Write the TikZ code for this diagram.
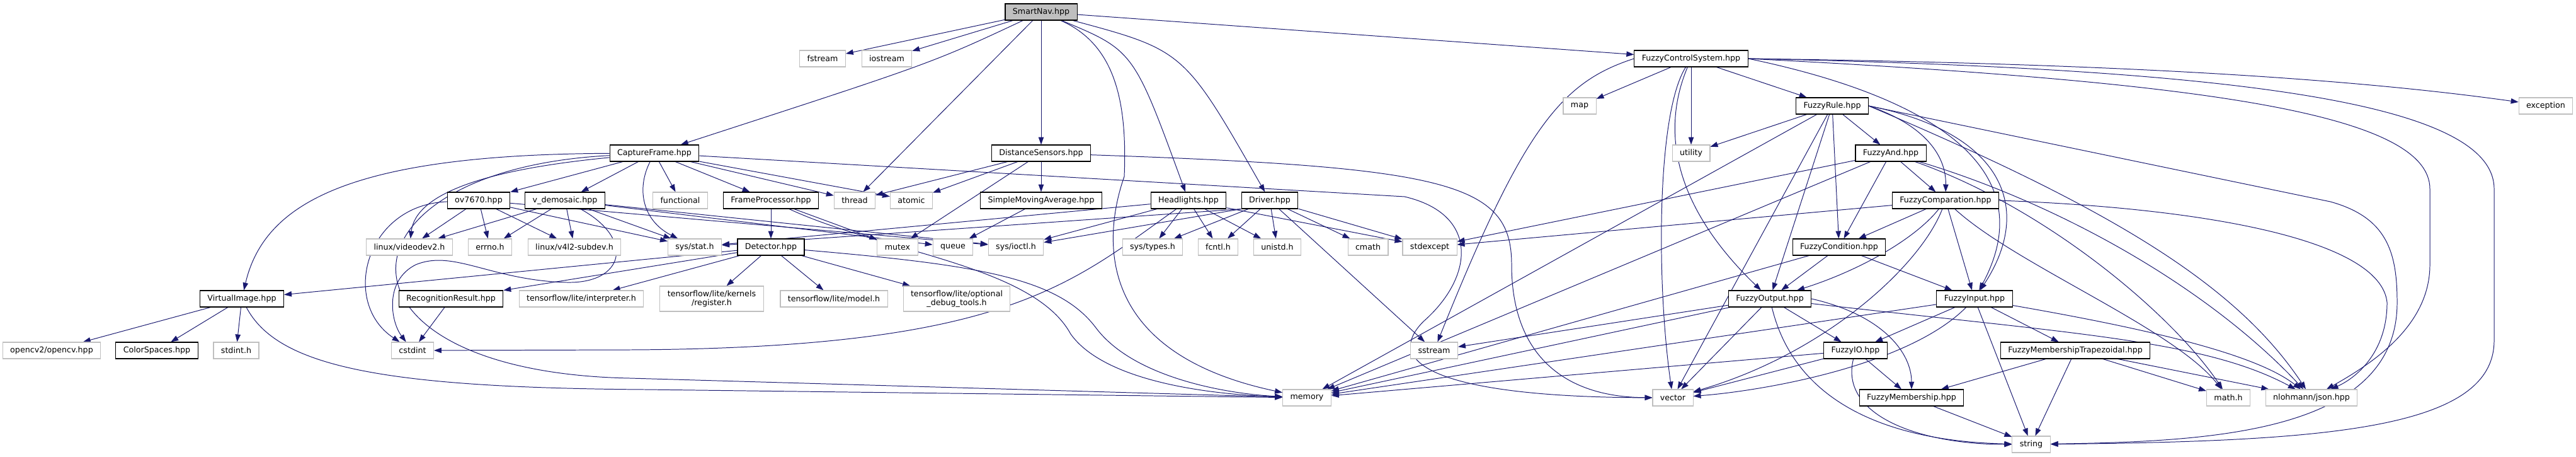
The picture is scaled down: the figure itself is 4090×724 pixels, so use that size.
\documentclass[tikz,border=0pt]{standalone}
\usepackage{fontspec}
\setmainfont{DejaVu Sans}
\usetikzlibrary{arrows.meta}

\definecolor{edgeblue}{HTML}{191970}
\pgfdeclarelayer{edges}
\pgfsetlayers{edges,main}

\begin{document}
\begin{tikzpicture}[
    x=0.025cm, y=-0.025cm,
    box/.style={rectangle, draw=black, line width=0.75pt, fill=white, minimum height=0.65cm, inner xsep=8.5pt, inner ysep=0pt, font=\fontsize{9}{10}\selectfont},
    sysbox/.style={box, draw=black!25},
    twoline/.style={align=center, minimum height=1cm},
    arrow/.style={-{Triangle[length=8.5pt, width=6pt]}, line width=0.7pt, draw=edgeblue},
]
\useasboundingbox (0,0) rectangle (4090,724);

%% NODES
    % root
    \node[box, fill=black!25] (smart_nav) at (1653,19) {SmartNav.hpp};

    % first level
    \node[sysbox] (fstream) at (1306,93) {fstream};
    \node[sysbox] (iostream) at (1408,93) {iostream};
    \node[box] (fuzzy_control_system) at (2685,93) {FuzzyControlSystem.hpp};

    \node[sysbox] (map) at (2508,168) {map};
    \node[box] (fuzzy_rule) at (2909,168) {FuzzyRule.hpp};
    \node[sysbox] (exception) at (4042,168) {exception};

    % capture, sensors
    \node[box] (capture_frame) at (1039,243) {CaptureFrame.hpp};
    \node[box] (distance_sensors) at (1653,243) {DistanceSensors.hpp};
    \node[sysbox] (utility) at (2685,243) {utility};
    \node[box] (fuzzy_and) at (3002,243) {FuzzyAnd.hpp};

    \node[box] (ov7670) at (760,318) {ov7670.hpp};
    \node[box] (v_demosaic) at (897,318) {v\_demosaic.hpp};
    \node[sysbox] (functional) at (1080,318) {functional};
    \node[box] (frame_processor) at (1224,318) {FrameProcessor.hpp};
    \node[sysbox] (thread) at (1357,318) {thread};
    \node[sysbox] (atomic) at (1447,318) {atomic};
    \node[box] (simple_moving_average) at (1653,318) {SimpleMovingAverage.hpp};
    \node[box] (headlights) at (1887,318) {Headlights.hpp};
    \node[box] (driver) at (2016,318) {Driver.hpp};
    \node[box] (fuzzy_comparation) at (3089,318) {FuzzyComparation.hpp};

    % system headers
    \node[sysbox] (linux_videodev2) at (650,392) {linux/videodev2.h};
    \node[sysbox] (errno) at (778,392) {errno.h};
    \node[sysbox] (linux_v4l2_subdev) at (912,392) {linux/v4l2-subdev.h};
    \node[sysbox] (sys_stat) at (1103,392) {sys/stat.h};
    \node[box] (detector) at (1224,392) {Detector.hpp};
    \node[sysbox] (mutex) at (1425,392) {mutex};
    \node[sysbox] (queue) at (1513,392) {queue};
    \node[sysbox] (sys_ioctl) at (1613,392) {sys/ioctl.h};
    \node[sysbox] (sys_types) at (1830,392) {sys/types.h};
    \node[sysbox] (fcntl) at (1934,392) {fcntl.h};
    \node[sysbox] (unistd) at (2028,392) {unistd.h};
    \node[sysbox] (cmath) at (2172,392) {cmath};
    \node[sysbox] (stdexcept) at (2270,392) {stdexcept};
    \node[box] (fuzzy_condition) at (2920,392) {FuzzyCondition.hpp};

    % detector
    \node[box] (virtual_image) at (384,474) {VirtualImage.hpp};
    \node[box] (recognition_result) at (716,474) {RecognitionResult.hpp};
    \node[sysbox] (tflite_interpreter) at (923,474) {tensorflow/lite/interpreter.h};
    \node[sysbox, twoline] (tflite_register) at (1130,474) {tensorflow/lite/kernels\\/register.h};
    \node[sysbox] (tflite_model) at (1324,474) {tensorflow/lite/model.h};
    \node[sysbox, twoline] (tflite_debug_tools) at (1519,474) {tensorflow/lite/optional\\\_debug\_tools.h};
    \node[box] (fuzzy_output) at (2810,474) {FuzzyOutput.hpp};
    \node[box] (fuzzy_input) at (3135,474) {FuzzyInput.hpp};

    \node[sysbox] (opencv) at (82,556) {opencv2/opencv.hpp};
    \node[box] (color_spaces) at (249,556) {ColorSpaces.hpp};
    \node[sysbox] (stdint_h) at (375,556) {stdint.h};
    \node[sysbox] (cstdint) at (655,556) {cstdint};
    \node[sysbox] (sstream) at (2277,556) {sstream};
    \node[box] (fuzzy_io) at (2946,556) {FuzzyIO.hpp};
    \node[box] (fuzzy_membership_trapezoidal) at (3295,556) {FuzzyMembershipTrapezoidal.hpp};

    \node[sysbox] (memory) at (2075,631) {memory};
    \node[sysbox] (vector) at (2656,631) {vector};
    \node[box] (fuzzy_membership) at (3035,631) {FuzzyMembership.hpp};
    \node[sysbox] (math_h) at (3538,631) {math.h};
    \node[sysbox] (json) at (3670,631) {nlohmann/json.hpp};

    \node[sysbox] (string) at (3225,705) {string};

%% CONNECTIONS
\begin{pgfonlayer}{edges}
    % SmartNav
    \draw[arrow] (smart_nav) -- (fstream);
    \draw[arrow] (smart_nav) -- (iostream);
    \draw[arrow] (smart_nav) .. controls (1480,100) .. (capture_frame);
    \draw[arrow] (smart_nav) -- (thread);
    \draw[arrow] (smart_nav) -- (distance_sensors);
    \draw[arrow] (smart_nav) .. controls (1770,70) and (1790,160) .. (1785,280) .. controls (1750,380) and (1740,560) .. (memory);
    \draw[arrow] (smart_nav) .. controls (1800,80) .. (headlights);
    \draw[arrow] (smart_nav) .. controls (1880,80) .. (driver);
    \draw[arrow] (smart_nav) -- (fuzzy_control_system);

    % CaptureFrame
    \draw[arrow] (capture_frame) .. controls (560,245) and (420,320) .. (virtual_image);
    \draw[arrow] (capture_frame) .. controls (520,270) and (500,590) .. (1000,600) -- (memory);
    \draw[arrow] (capture_frame) .. controls (760,270) and (660,310) .. (linux_videodev2);
    \draw[arrow] (capture_frame) -- (ov7670);
    \draw[arrow] (capture_frame) -- (v_demosaic);
    \draw[arrow] (capture_frame) .. controls (1010,300) and (1020,350) .. (sys_stat);
    \draw[arrow] (capture_frame) -- (functional);
    \draw[arrow] (capture_frame) -- (frame_processor);
    \draw[arrow] (capture_frame) -- (thread);
    \draw[arrow] (capture_frame) -- (atomic);
    \draw[arrow] (capture_frame) -- (2230,312) .. controls (2350,340) and (2340,440) .. (2260,510) .. controls (2190,580) and (2300,630) .. (vector);

    % camera drivers
    \draw[arrow] (ov7670) .. controls (580,325) and (540,480) .. (cstdint);
    \draw[arrow] (ov7670) -- (linux_videodev2);
    \draw[arrow] (ov7670) -- (errno);
    \draw[arrow] (ov7670) -- (linux_v4l2_subdev);
    \draw[arrow] (ov7670) -- (sys_stat);
    \draw[arrow] (ov7670) -- (sys_ioctl);
    \draw[arrow] (v_demosaic) -- (linux_videodev2);
    \draw[arrow] (v_demosaic) -- (errno);
    \draw[arrow] (v_demosaic) -- (linux_v4l2_subdev);
    \draw[arrow] (v_demosaic) -- (sys_stat);
    \draw[arrow] (v_demosaic) -- (queue);
    \draw[arrow] (v_demosaic) -- (sys_ioctl);
    \draw[arrow] (v_demosaic) .. controls (1010,380) and (990,450) .. (900,448) .. controls (780,445) and (720,395) .. (660,420) .. controls (610,445) and (620,510) .. (cstdint);

    % FrameProcessor, Detector
    \draw[arrow] (frame_processor) -- (detector);
    \draw[arrow] (frame_processor) -- (mutex);
    \draw[arrow] (frame_processor) .. controls (1400,400) and (1640,420) .. (1700,530) .. controls (1750,600) and (1900,625) .. (memory);
    \draw[arrow] (detector) -- (virtual_image);
    \draw[arrow] (detector) -- (recognition_result);
    \draw[arrow] (detector) -- (tflite_interpreter);
    \draw[arrow] (detector) -- (tflite_register);
    \draw[arrow] (detector) -- (tflite_model);
    \draw[arrow] (detector) -- (tflite_debug_tools);
    \draw[arrow] (detector) .. controls (1550,420) and (1680,440) .. (1740,520) .. controls (1800,600) and (1950,625) .. (memory);
    \draw[arrow] (recognition_result) -- (cstdint);

    % VirtualImage
    \draw[arrow] (virtual_image) -- (opencv);
    \draw[arrow] (virtual_image) -- (color_spaces);
    \draw[arrow] (virtual_image) -- (stdint_h);
    \draw[arrow] (virtual_image) .. controls (440,580) and (600,615) .. (1024,618) -- (memory);

    % DistanceSensors
    \draw[arrow] (distance_sensors) -- (thread);
    \draw[arrow] (distance_sensors) -- (atomic);
    \draw[arrow] (distance_sensors) -- (simple_moving_average);
    \draw[arrow] (distance_sensors) -- (mutex);
    \draw[arrow] (distance_sensors) .. controls (2300,265) and (2400,290) .. (2400,420) .. controls (2400,560) and (2480,630) .. (vector);
    \draw[arrow] (simple_moving_average) -- (queue);

    % Headlights
    \draw[arrow] (headlights) -- (sys_stat);
    \draw[arrow] (headlights) -- (sys_ioctl);
    \draw[arrow] (headlights) .. controls (1700,450) and (1600,552) .. (1000,555) -- (cstdint);
    \draw[arrow] (headlights) -- (sys_types);
    \draw[arrow] (headlights) -- (fcntl);
    \draw[arrow] (headlights) -- (unistd);
    \draw[arrow] (headlights) -- (stdexcept);

    % Driver
    \draw[arrow] (driver.south west) -- (sys_stat);
    \draw[arrow] (driver.south west) -- (sys_ioctl);
    \draw[arrow] (driver) -- (sys_types);
    \draw[arrow] (driver) -- (fcntl);
    \draw[arrow] (driver) -- (unistd);
    \draw[arrow] (driver) -- (cmath);
    \draw[arrow] (driver) -- (stdexcept);
    \draw[arrow] (driver) -- (sstream);

    % FuzzyControlSystem
    \draw[arrow] (fuzzy_control_system) -- (map);
    \draw[arrow] (fuzzy_control_system) -- (utility);
    \draw[arrow] (fuzzy_control_system) -- (fuzzy_rule);
    \draw[arrow] (fuzzy_control_system.west) .. controls (2480,130) and (2420,200) .. (sstream);
    \draw[arrow] (fuzzy_control_system) .. controls (2630,180) and (2630,450) .. (vector);
    \draw[arrow] (fuzzy_control_system) .. controls (2640,200) and (2650,320) .. (fuzzy_output);
    \draw[arrow] (fuzzy_control_system.east) .. controls (3050,150) and (3250,260) .. (fuzzy_input);
    \draw[arrow] (fuzzy_control_system.east) .. controls (3300,100) and (3700,120) .. (exception);
    \draw[arrow] (fuzzy_control_system.east) .. controls (3500,130) and (3858,180) .. (3858,300) -- (3858,420) .. controls (3858,520) and (3760,580) .. (json);
    \draw[arrow] (fuzzy_control_system.east) .. controls (3600,110) and (3960,170) .. (3960,300) -- (3960,540) .. controls (3960,680) and (3700,700) .. (string);

    % FuzzyRule
    \draw[arrow] (fuzzy_rule) -- (utility);
    \draw[arrow] (fuzzy_rule) -- (memory);
    \draw[arrow] (fuzzy_rule) -- (vector);
    \draw[arrow] (fuzzy_rule) -- (fuzzy_output);
    \draw[arrow] (fuzzy_rule) -- (fuzzy_condition);
    \draw[arrow] (fuzzy_rule) -- (fuzzy_and);
    \draw[arrow] (fuzzy_rule.east) .. controls (3060,200) and (3090,250) .. (fuzzy_comparation);
    \draw[arrow] (fuzzy_rule.east) .. controls (3180,210) and (3230,330) .. (fuzzy_input);
    \draw[arrow] (fuzzy_rule.east) .. controls (3350,330) and (3550,450) .. (json);
    \draw[arrow] (fuzzy_rule.east) -- (3700,320) .. controls (3790,345) and (3806,400) .. (3806,480) .. controls (3806,690) and (3500,700) .. (string);

    % FuzzyAnd
    \draw[arrow] (fuzzy_and) -- (stdexcept);
    \draw[arrow] (fuzzy_and) -- (memory);
    \draw[arrow] (fuzzy_and) -- (fuzzy_condition);
    \draw[arrow] (fuzzy_and) -- (fuzzy_comparation);
    \draw[arrow] (fuzzy_and) .. controls (3250,330) and (3450,500) .. (math_h);
    \draw[arrow] (fuzzy_and) .. controls (3260,320) and (3500,450) .. (json);

    % FuzzyComparation
    \draw[arrow] (fuzzy_comparation) -- (stdexcept);
    \draw[arrow] (fuzzy_comparation) -- (fuzzy_condition);
    \draw[arrow] (fuzzy_comparation) .. controls (3040,380) and (2950,430) .. (fuzzy_output);
    \draw[arrow] (fuzzy_comparation) .. controls (3050,420) and (2900,560) .. (vector);
    \draw[arrow] (fuzzy_comparation) -- (fuzzy_input);
    \draw[arrow] (fuzzy_comparation) .. controls (3200,420) and (3450,520) .. (math_h);
    \draw[arrow] (fuzzy_comparation.east) .. controls (3500,330) and (3780,380) .. (3790,480) .. controls (3790,560) and (3740,600) .. (json);

    % FuzzyCondition
    \draw[arrow] (fuzzy_condition) -- (memory);
    \draw[arrow] (fuzzy_condition) -- (fuzzy_output);
    \draw[arrow] (fuzzy_condition) -- (fuzzy_input);

    % FuzzyOutput
    \draw[arrow] (fuzzy_output) -- (sstream);
    \draw[arrow] (fuzzy_output) -- (memory);
    \draw[arrow] (fuzzy_output) -- (vector);
    \draw[arrow] (fuzzy_output) .. controls (2850,640) and (3000,700) .. (string);
    \draw[arrow] (fuzzy_output) -- (fuzzy_io);
    \draw[arrow] (fuzzy_output.east) .. controls (2990,500) and (3035,560) .. (fuzzy_membership);
    \draw[arrow] (fuzzy_output) .. controls (3300,530) and (3500,540) .. (json);

    % FuzzyIO
    \draw[arrow] (fuzzy_io) -- (memory);
    \draw[arrow] (fuzzy_io) -- (vector);
    \draw[arrow] (fuzzy_io) -- (fuzzy_membership);
    \draw[arrow] (fuzzy_io) .. controls (2920,660) and (3050,705) .. (string);

    % FuzzyInput
    \draw[arrow] (fuzzy_input) -- (memory);
    \draw[arrow] (fuzzy_input) -- (fuzzy_io);
    \draw[arrow] (fuzzy_input) .. controls (3030,580) and (2800,620) .. (vector);
    \draw[arrow] (fuzzy_input) -- (string);
    \draw[arrow] (fuzzy_input) -- (fuzzy_membership_trapezoidal);
    \draw[arrow] (fuzzy_input) .. controls (3400,520) and (3580,560) .. (json);

    % memberships
    \draw[arrow] (fuzzy_membership_trapezoidal) -- (fuzzy_membership);
    \draw[arrow] (fuzzy_membership_trapezoidal) -- (string);
    \draw[arrow] (fuzzy_membership_trapezoidal) -- (math_h);
    \draw[arrow] (fuzzy_membership_trapezoidal) -- (json);
    \draw[arrow] (fuzzy_membership) -- (string);
\end{pgfonlayer}

\end{tikzpicture}
\end{document}
